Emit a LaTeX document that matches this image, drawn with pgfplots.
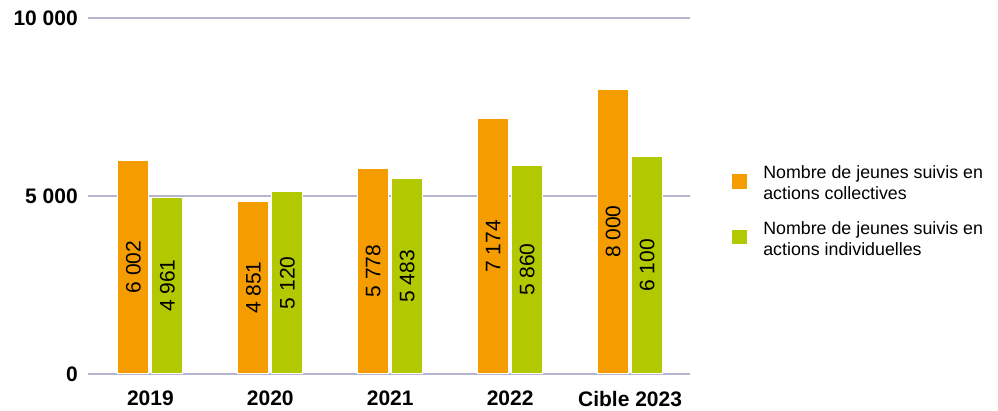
\documentclass[border=0pt]{standalone}
\usepackage{pgfplots}
\pgfplotsset{compat=1.18}
\usepackage{fontspec}
\setmainfont{Liberation Sans}
\definecolor{barorange}{RGB}{245,156,0}
\definecolor{bargreen}{RGB}{178,200,0}
\definecolor{gridc}{RGB}{182,182,206}
\begin{document}
\begin{tikzpicture}[x=1pt,y=1pt]
\useasboundingbox (0,0) rectangle (998,411);
\begin{axis}[
  at={(88pt,37pt)}, anchor=south west,
  scale only axis, width=602pt, height=356pt,
  xmin=-0.52, xmax=4.5, ymin=0, ymax=10000,
  axis line style={draw=none},
  ybar=3pt, bar width=31pt,
  xtick={0,1,2,3,4},
  xticklabels={2019,2020,2021,2022,Cible 2023},
  ytick={0,5000,10000},
  yticklabels={0,5 000,10 000},
  major tick length=0pt,
  tick style={draw=none},
  ymajorgrids,
  grid style={gridc, line width=1.6pt},
  yticklabel style={font=\fontsize{21}{25}\selectfont\bfseries, anchor=east, inner sep=0pt, xshift=-10pt},
  xticklabel style={font=\fontsize{21}{25}\selectfont\bfseries, anchor=north, inner sep=0pt, yshift=-17pt},
  scaled y ticks=false,
  nodes near coords,
  point meta=explicit symbolic,
  visualization depends on={y \as \rawy},
  every node near coord/.append style={font=\fontsize{21}{25}\selectfont, shift={(axis direction cs:0,-\rawy/2)}, rotate=90, anchor=center, inner sep=0pt},
  legend style={draw=none, fill=none, at={(1.068,0.585)}, anchor=north west, inner sep=0pt,
    font=\fontsize{17.8}{21}\selectfont, row sep=20pt,
    nodes={align=left, inner sep=0pt},
    /tikz/every odd column/.append style={column sep=15pt}},
  legend cell align=left,
  legend image code/.code={\fill[#1] (0pt,-6pt) rectangle (16pt,10pt);},
]
\addplot[fill=barorange, draw=white, line width=1.2pt] coordinates {(0,6002)[6 002] (1,4851)[4 851] (2,5778)[5 778] (3,7174)[7 174] (4,8000)[8 000]};
\addplot[fill=bargreen, draw=white, line width=1.2pt] coordinates {(0,4961)[4 961] (1,5120)[5 120] (2,5483)[5 483] (3,5860)[5 860] (4,6100)[6 100]};
\legend{Nombre de jeunes suivis en\\actions collectives, Nombre de jeunes suivis en\\actions individuelles}
\end{axis}
\end{tikzpicture}
\end{document}
